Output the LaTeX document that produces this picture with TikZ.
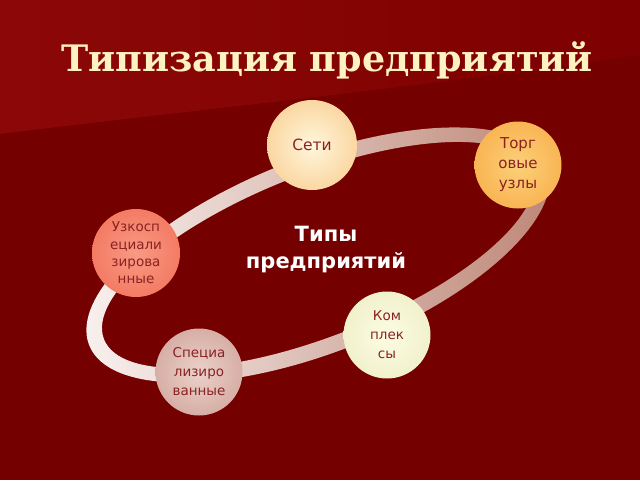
\documentclass[tikz,border=0pt]{standalone}
\usepackage{fontspec}
\setmainfont{DejaVu Sans}
\newfontfamily\titlefont{DejaVu Serif}
\newfontfamily\labelfont{DejaVu Sans}
\definecolor{bgdark}{HTML}{740000}
\definecolor{bglight}{HTML}{8C0808}
\definecolor{bgmid}{HTML}{7E0000}
\definecolor{titlecol}{HTML}{FFF2C2}
\definecolor{txtcol}{HTML}{8A2222}
\definecolor{ringleft}{HTML}{FAF4F2}
\definecolor{ringmid}{HTML}{E2C2BC}
\definecolor{ringright}{HTML}{BC8474}
\definecolor{setiin}{HTML}{FFF6DC}
\definecolor{setiout}{HTML}{F6B868}
\definecolor{torgin}{HTML}{FCD078}
\definecolor{torgout}{HTML}{F59A30}
\definecolor{uzkin}{HTML}{F99A84}
\definecolor{uzkout}{HTML}{EE5C44}
\definecolor{specin}{HTML}{EAD2CA}
\definecolor{specout}{HTML}{C48A80}
\definecolor{komin}{HTML}{FCFCE4}
\definecolor{komout}{HTML}{E6E6B6}
\pgfdeclareradialshading{setiball}{\pgfpoint{0bp}{0bp}}{color(0bp)=(setiin); color(50bp)=(setiout); color(72bp)=(setiout)}
\pgfdeclareradialshading{torgball}{\pgfpoint{0bp}{0bp}}{color(0bp)=(torgin); color(50bp)=(torgout); color(72bp)=(torgout)}
\pgfdeclareradialshading{uzkball}{\pgfpoint{0bp}{0bp}}{color(0bp)=(uzkin); color(50bp)=(uzkout); color(72bp)=(uzkout)}
\pgfdeclareradialshading{specball}{\pgfpoint{0bp}{0bp}}{color(0bp)=(specin); color(50bp)=(specout); color(72bp)=(specout)}
\pgfdeclareradialshading{komball}{\pgfpoint{0bp}{0bp}}{color(0bp)=(komin); color(50bp)=(komout); color(72bp)=(komout)}
\tikzset{
  ball/.style={circle, inner sep=0pt, align=center, text=txtcol,
    font=\labelfont\fontsize{13.5}{19}\selectfont},
}
\begin{document}
\begin{tikzpicture}[x=1pt,y=-1pt]
\useasboundingbox (0,0) rectangle (640,480);
% background
\fill[bgdark] (0,0) rectangle (640,480);
\shade[left color=bglight, right color=bgmid] (0,0) -- (640,0) -- (640,55) .. controls (400,90) and (150,115) .. (0,134) -- cycle;
% title
\node[text=titlecol, font=\titlefont\bfseries\fontsize{36.5}{40}\selectfont] (title) at (327,60) {Типизация предприятий};
% ring
\begin{scope}[shift={(318,255)}, rotate=21.5]
  \shade[even odd rule, left color=ringleft, middle color=ringmid, right color=ringright]
    (0,0) ellipse [x radius=246pt, y radius=97pt]
    (0,0) ellipse [x radius=230pt, y radius=81pt];
\end{scope}
% center text
\node[text=white, align=center, font=\labelfont\bfseries\fontsize{21}{27}\selectfont] (center) at (326,250) {Типы\\предприятий};
% circles
\node[ball, minimum size=90pt, shading=setiball, font=\labelfont\fontsize{15.5}{20}\selectfont] (seti) at (312,145) {Сети};
\node[ball, minimum size=87pt, shading=torgball, font=\labelfont\fontsize{15}{20}\selectfont] (torg) at (518,165) {Торг\\овые\\узлы};
\node[ball, minimum size=88pt, shading=uzkball, font=\labelfont\fontsize{13.5}{17.3}\selectfont] (uzk) at (136,253) {Узкосп\\ециали\\зирова\\нные};
\node[ball, minimum size=87pt, shading=specball] (spec) at (199,372) {Специа\\лизиро\\ванные};
\node[ball, minimum size=87pt, shading=komball] (kompl) at (387,335) {Ком\\плек\\сы};
\end{tikzpicture}
\end{document}
